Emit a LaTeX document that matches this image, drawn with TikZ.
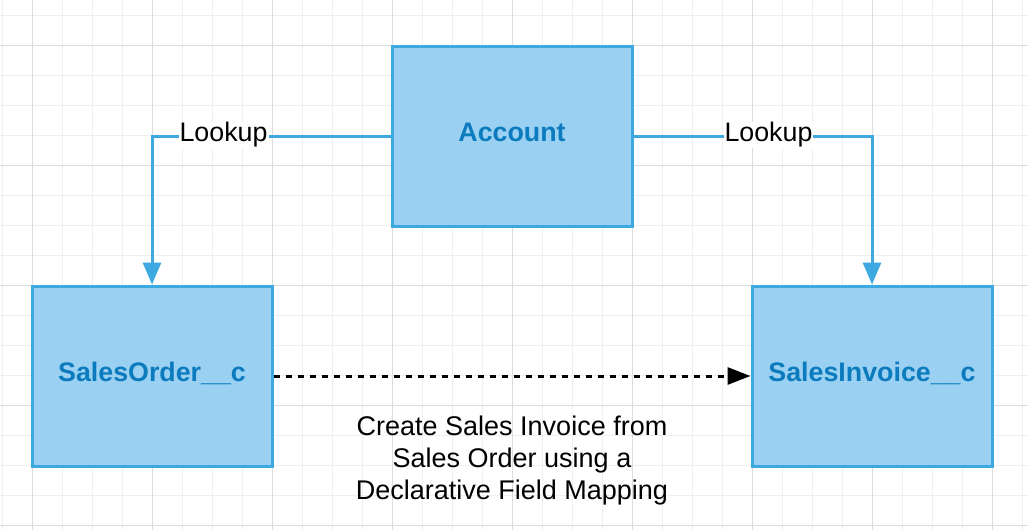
\documentclass[tikz,border=0pt]{standalone}
\usepackage{fontspec}
\setmainfont{Liberation Sans}
\usetikzlibrary{arrows.meta}
\definecolor{boxfill}{HTML}{9AD1F2}
\definecolor{boxline}{HTML}{3EA8E0}
\definecolor{boxtext}{HTML}{0B7BBE}
\definecolor{gridminor}{HTML}{EFEFEF}
\definecolor{gridmajor}{HTML}{DDDDDD}
\tikzset{
  entity/.style={rectangle, draw=boxline, fill=boxfill, line width=3pt,
    minimum width=240pt, minimum height=180pt, inner sep=0pt,
    text height=19pt, text depth=8pt,
    text=boxtext, font=\fontsize{26.8}{32}\selectfont\bfseries},
  conn/.style={draw=boxline, line width=3pt,
    -{Triangle[length=22pt,width=18pt]}},
  mapping/.style={draw=black, line width=3pt, dash pattern=on 6pt off 6pt,
    -{Triangle[length=23pt,width=17pt]}},
  lbl/.style={fill=white, inner sep=1pt, text=black,
    font=\fontsize{26.8}{32}\selectfont},
  note/.style={align=center, text=black, inner sep=0pt,
    font=\fontsize{27}{32}\selectfont}
}
\begin{document}
\begin{tikzpicture}[x=1pt,y=-1pt]
\useasboundingbox (0,0) rectangle (1028,530);
\fill[white] (0,0) rectangle (1028,530);
% grid
\foreach \gx in {2,32,...,1022} \draw[gridminor, line width=1pt] (\gx,0) -- (\gx,530);
\foreach \gy in {15,45,...,525} \draw[gridminor, line width=1pt] (0,\gy) -- (1028,\gy);
\foreach \gx in {32,152,...,992} \draw[gridmajor, line width=1pt] (\gx,0) -- (\gx,530);
\foreach \gy in {45,165,...,525} \draw[gridmajor, line width=1pt] (0,\gy) -- (1028,\gy);
% boxes
\node[entity] (acc) at (512,136) {Account};
\node[entity] (so) at (152,376) {SalesOrder\_\_c};
\node[entity] (si) at (872,376) {SalesInvoice\_\_c};
% connectors
\draw[conn] (acc.west) -| node[lbl, pos=0.35, yshift=1pt] (l1) {Lookup} (so.north);
\draw[conn] (acc.east) -| node[lbl, pos=0.283, yshift=1pt] (l2) {Lookup} (si.north);
\draw[mapping] (so.east) -- (si.west);
\node[note] (txt) at (512,461) {Create Sales Invoice from\\Sales Order using a\\Declarative Field Mapping};
\end{tikzpicture}
\end{document}
